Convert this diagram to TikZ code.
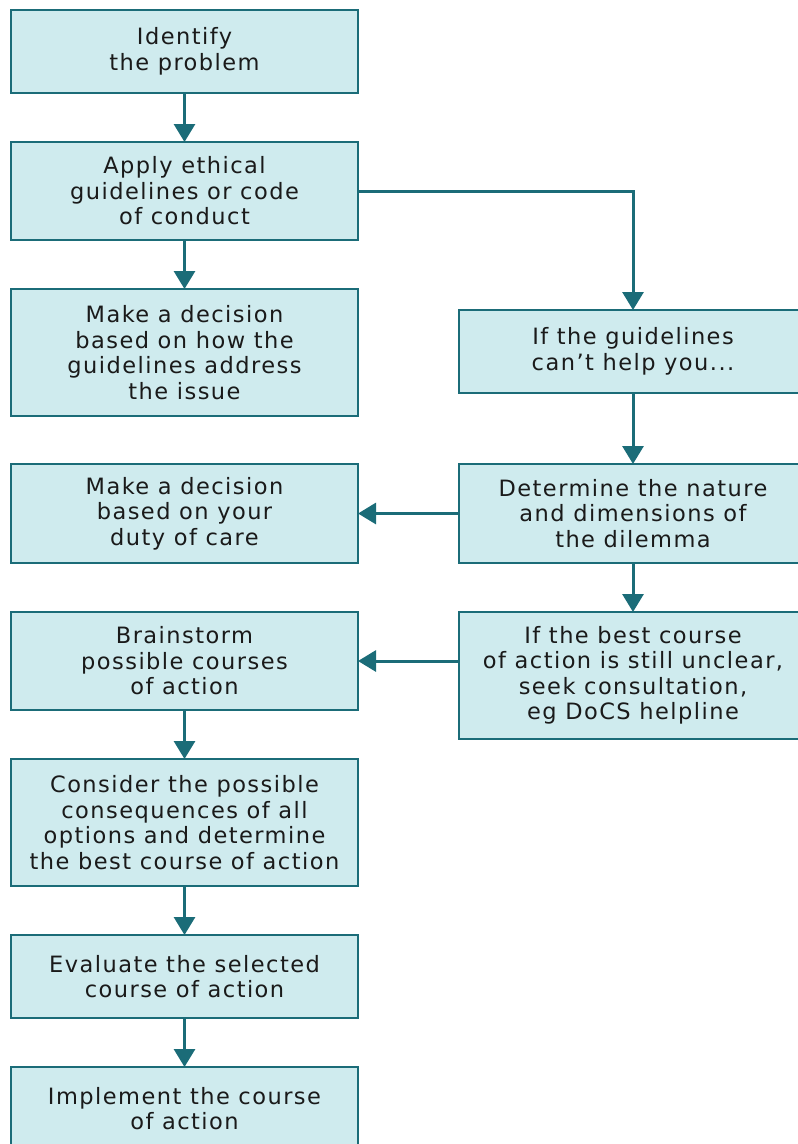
\documentclass[tikz,border=0pt]{standalone}
\usepackage{fontspec}
\setmainfont{DejaVu Sans}[LetterSpace=6.5]
\usepackage{tikz}
\usetikzlibrary{arrows.meta,positioning,calc}

\definecolor{boxfill}{HTML}{CFEBEE}
\definecolor{boxline}{HTML}{1B6C78}
\definecolor{boxtext}{HTML}{1A1A1A}

\tikzset{
  stepbox/.style={draw=boxline, line width=2.4pt, fill=boxfill, text=boxtext,
    align=center, inner sep=0pt, outer sep=0pt, minimum width=347pt,
    font=\fontsize{22.5}{25.5}\selectfont},
  flow/.style={draw=boxline, line width=3pt,
    -{Triangle[width=21pt,length=18pt]}}
}

\begin{document}
\begin{tikzpicture}[x=1pt,y=-1pt]
\useasboundingbox (0,0) rectangle (798,1144);
% left column
\node[stepbox, minimum height=83pt] (identify) at (184.5,51.5) {Identify\\the problem};
\node[stepbox, minimum height=98pt] (apply) at (184.5,191) {Apply ethical\\guidelines or code\\of conduct};
\node[stepbox, minimum height=127pt] (decguide) at (184.5,352.5) {Make a decision\\based on how the\\guidelines address\\the issue};
\node[stepbox, minimum height=99pt] (deccare) at (184.5,513.5) {Make a decision\\based on your\\duty of care};
\node[stepbox, minimum height=98pt] (brain) at (184.5,661) {Brainstorm\\possible courses\\of action};
\node[stepbox, minimum height=127pt] (consider) at (184.5,822.5) {Consider the possible\\consequences of all\\options and determine\\the best course of action};
\node[stepbox, minimum height=83pt] (evaluate) at (184.5,976.5) {Evaluate the selected\\course of action};
\node[stepbox, minimum height=83pt] (implement) at (184.5,1108.5) {Implement the course\\of action};
% right column
\node[stepbox, minimum width=348pt, minimum height=83pt] (cant) at (633,351.5) {If the guidelines\\can’t help you...};
\node[stepbox, minimum width=348pt, minimum height=99pt] (nature) at (633,513.5) {Determine the nature\\and dimensions of\\the dilemma};
\node[stepbox, minimum width=348pt, minimum height=127pt] (consult) at (633,675.5) {If the best course\\of action is still unclear,\\seek consultation,\\eg DoCS helpline};

\draw[flow] (identify) -- (apply);
\draw[flow] (apply) -- (decguide);
\draw[flow] (apply.east) -| (cant.north);
\draw[flow] (cant) -- (nature);
\draw[flow] (nature) -- (deccare);
\draw[flow] (nature) -- (consult);
\draw[flow] (consult.west |- brain.east) -- (brain.east);
\draw[flow] (brain) -- (consider);
\draw[flow] (consider) -- (evaluate);
\draw[flow] (evaluate) -- (implement);
\end{tikzpicture}
\end{document}
